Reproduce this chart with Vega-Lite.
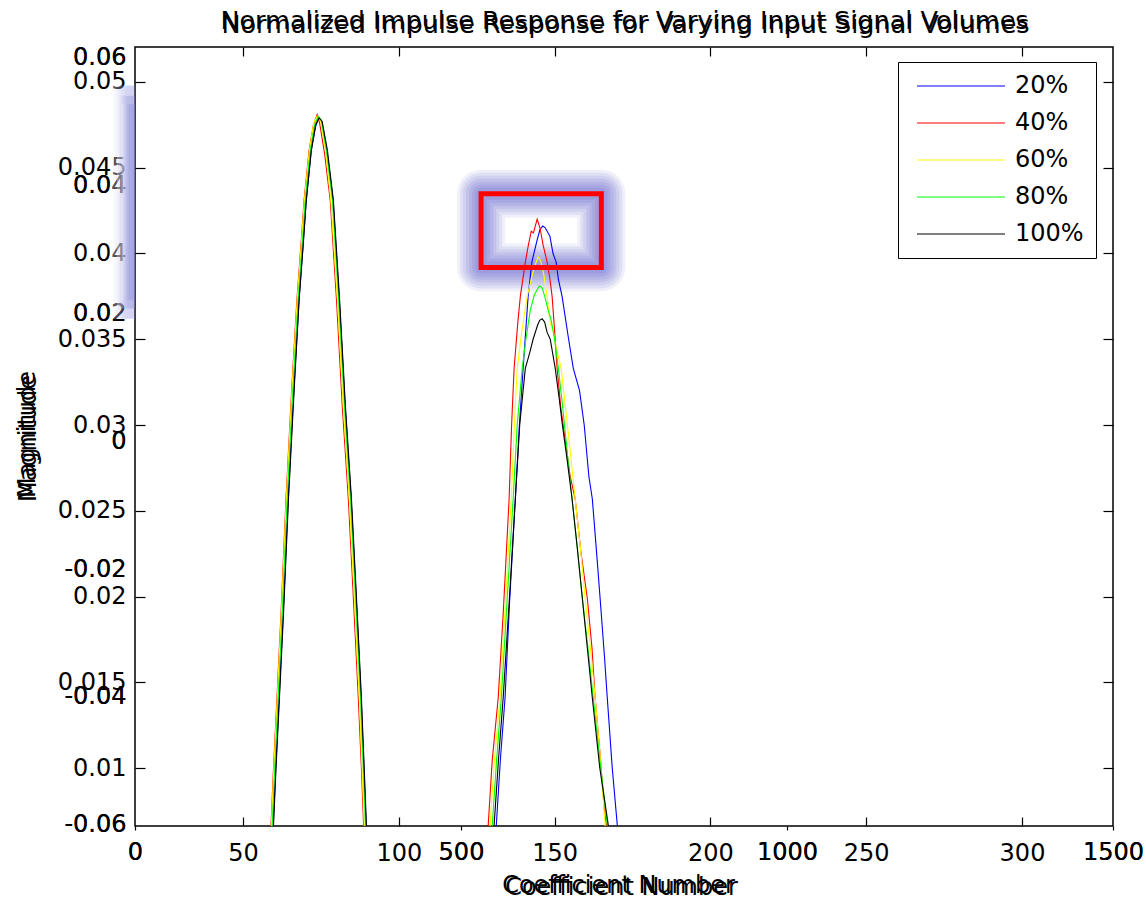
{
 "$schema": "https://vega.github.io/schema/vega-lite/v6.json",
 "width": 978, "height": 779,
 "autosize": "none",
 "padding": {"left": 135, "top": 47, "right": 33, "bottom": 74},
 "background": "white",
 "config": {
  "view": {"stroke": "black", "strokeWidth": 1.5},
  "font": "DejaVu Sans",
  "axis": {"labelFont": "DejaVu Sans", "titleFont": "DejaVu Sans", "labelFontSize": 24, "titleFontSize": 24, "titleFontWeight": "normal", "labelColor": "black", "titleColor": "black", "tickColor": "black", "domainColor": "black", "grid": false, "labelFlush": false, "labelOverlap": false, "tickWidth": 1.2, "domainWidth": 1.5}
 },
 "datasets": {
  "ax1": [{"x": 0, "y": -0.06}, {"x": 1500, "y": 0.06}],
  "ax2": [{"x": 15.34, "y": 0.00662}, {"x": 329.2, "y": 0.05204}],
  "box": [{"x1": 126.4, "x2": 165.0, "y1": 0.03919, "y2": 0.04349}],
  "band": [{"x1": 8.0, "x2": 15.34, "y1": 0.0362, "y2": 0.0498}, {"x1": 9.5, "x2": 15.34, "y1": 0.0368, "y2": 0.0492}, {"x1": 11.0, "x2": 15.34, "y1": 0.0373, "y2": 0.0487}],
  "curves": [
   {"s":"20%","x":0,"y":0},{"s":"20%","x":58.8,"y":0},{"s":"20%","x":59.7,"y":0.0067},{"s":"20%","x":60.5,"y":0.0100},{"s":"20%","x":61.6,"y":0.0141},{"s":"20%","x":62.9,"y":0.0190},{"s":"20%","x":64.5,"y":0.0257},{"s":"20%","x":66.3,"y":0.0320},{"s":"20%","x":68.0,"y":0.0373},{"s":"20%","x":69.3,"y":0.0405},{"s":"20%","x":70.3,"y":0.0431},{"s":"20%","x":71.9,"y":0.0460},{"s":"20%","x":73.3,"y":0.0474},{"s":"20%","x":74.3,"y":0.0479},{"s":"20%","x":75.3,"y":0.0477},{"s":"20%","x":76.9,"y":0.0460},{"s":"20%","x":78.9,"y":0.0431},{"s":"20%","x":80.9,"y":0.0373},{"s":"20%","x":82.8,"y":0.0310},{"s":"20%","x":84.7,"y":0.0257},{"s":"20%","x":86.3,"y":0.0200},{"s":"20%","x":87.9,"y":0.0141},{"s":"20%","x":88.8,"y":0.0100},{"s":"20%","x":89.5,"y":0.0067},{"s":"20%","x":90.3,"y":0},
   {"s":"20%","x":130.8,"y":0},{"s":"20%","x":131.3,"y":0.0067},{"s":"20%","x":132.6,"y":0.0105},{"s":"20%","x":134.1,"y":0.0141},{"s":"20%","x":135.5,"y":0.0195},{"s":"20%","x":137.4,"y":0.0257},{"s":"20%","x":138.7,"y":0.0300},{"s":"20%","x":139.9,"y":0.0333},{"s":"20%","x":141.5,"y":0.0375},{"s":"20%","x":142.7,"y":0.0395},{"s":"20%","x":144.4,"y":0.0408},{"s":"20%","x":145.3,"y":0.0414},{"s":"20%","x":146.2,"y":0.0416},{"s":"20%","x":147.0,"y":0.0415},{"s":"20%","x":148.5,"y":0.0410},{"s":"20%","x":149.5,"y":0.0400},{"s":"20%","x":150.5,"y":0.0395},{"s":"20%","x":151.2,"y":0.0385},{"s":"20%","x":152.4,"y":0.0375},{"s":"20%","x":154.5,"y":0.0350},{"s":"20%","x":156.0,"y":0.0333},{"s":"20%","x":158.0,"y":0.0320},{"s":"20%","x":159.5,"y":0.0300},{"s":"20%","x":161.0,"y":0.0270},{"s":"20%","x":162.1,"y":0.0257},{"s":"20%","x":163.5,"y":0.0225},{"s":"20%","x":164.6,"y":0.0199},{"s":"20%","x":166.0,"y":0.0165},{"s":"20%","x":166.9,"y":0.0141},{"s":"20%","x":168.5,"y":0.0100},{"s":"20%","x":170.1,"y":0.0067},{"s":"20%","x":170.6,"y":0},{"s":"20%","x":330,"y":0},

   {"s":"40%","x":0,"y":0},{"s":"40%","x":58.1,"y":0},{"s":"40%","x":59.0,"y":0.0067},{"s":"40%","x":59.8,"y":0.0100},{"s":"40%","x":60.9,"y":0.0141},{"s":"40%","x":62.2,"y":0.0190},{"s":"40%","x":63.8,"y":0.0257},{"s":"40%","x":65.6,"y":0.0320},{"s":"40%","x":67.3,"y":0.0373},{"s":"40%","x":68.6,"y":0.0405},{"s":"40%","x":69.6,"y":0.0431},{"s":"40%","x":71.2,"y":0.0460},{"s":"40%","x":72.6,"y":0.0475},{"s":"40%","x":73.8,"y":0.0481},{"s":"40%","x":74.6,"y":0.0476},{"s":"40%","x":76.2,"y":0.0458},{"s":"40%","x":78.0,"y":0.0431},{"s":"40%","x":80.0,"y":0.0373},{"s":"40%","x":81.9,"y":0.0310},{"s":"40%","x":83.8,"y":0.0257},{"s":"40%","x":85.4,"y":0.0200},{"s":"40%","x":87.0,"y":0.0141},{"s":"40%","x":88.0,"y":0.0100},{"s":"40%","x":88.7,"y":0.0067},{"s":"40%","x":89.5,"y":0},
   {"s":"40%","x":128.2,"y":0},{"s":"40%","x":128.7,"y":0.0067},{"s":"40%","x":130.0,"y":0.0105},{"s":"40%","x":131.9,"y":0.0141},{"s":"40%","x":133.5,"y":0.0190},{"s":"40%","x":135.4,"y":0.0257},{"s":"40%","x":136.2,"y":0.0300},{"s":"40%","x":137.0,"y":0.0333},{"s":"40%","x":138.2,"y":0.0360},{"s":"40%","x":139.0,"y":0.0375},{"s":"40%","x":140.6,"y":0.0395},{"s":"40%","x":141.6,"y":0.0405},{"s":"40%","x":142.5,"y":0.0413},{"s":"40%","x":143.2,"y":0.0412},{"s":"40%","x":143.8,"y":0.0416},{"s":"40%","x":144.4,"y":0.0420},{"s":"40%","x":145.3,"y":0.0415},{"s":"40%","x":146.3,"y":0.0405},{"s":"40%","x":147.6,"y":0.0395},{"s":"40%","x":148.5,"y":0.0385},{"s":"40%","x":149.2,"y":0.0375},{"s":"40%","x":150.0,"y":0.0355},{"s":"40%","x":150.8,"y":0.0333},{"s":"40%","x":152.0,"y":0.0310},{"s":"40%","x":153.5,"y":0.0290},{"s":"40%","x":155.0,"y":0.0270},{"s":"40%","x":156.6,"y":0.0257},{"s":"40%","x":158.5,"y":0.0225},{"s":"40%","x":160.5,"y":0.0199},{"s":"40%","x":162.0,"y":0.0170},{"s":"40%","x":163.0,"y":0.0141},{"s":"40%","x":164.5,"y":0.0110},{"s":"40%","x":166.0,"y":0.0075},{"s":"40%","x":166.6,"y":0.0067},{"s":"40%","x":167.2,"y":0},{"s":"40%","x":330,"y":0},

   {"s":"60%","x":0,"y":0},{"s":"60%","x":58.2,"y":0},{"s":"60%","x":59.1,"y":0.0067},{"s":"60%","x":59.9,"y":0.0100},{"s":"60%","x":61.0,"y":0.0141},{"s":"60%","x":62.3,"y":0.0190},{"s":"60%","x":63.9,"y":0.0257},{"s":"60%","x":65.7,"y":0.0320},{"s":"60%","x":67.4,"y":0.0373},{"s":"60%","x":68.7,"y":0.0405},{"s":"60%","x":69.7,"y":0.0431},{"s":"60%","x":71.3,"y":0.0460},{"s":"60%","x":72.7,"y":0.0476},{"s":"60%","x":73.8,"y":0.0480},{"s":"60%","x":74.8,"y":0.0478},{"s":"60%","x":76.5,"y":0.0460},{"s":"60%","x":78.2,"y":0.0431},{"s":"60%","x":80.3,"y":0.0373},{"s":"60%","x":82.2,"y":0.0310},{"s":"60%","x":84.1,"y":0.0257},{"s":"60%","x":85.7,"y":0.0200},{"s":"60%","x":87.3,"y":0.0141},{"s":"60%","x":88.2,"y":0.0100},{"s":"60%","x":88.9,"y":0.0067},{"s":"60%","x":89.7,"y":0},
   {"s":"60%","x":128.8,"y":0},{"s":"60%","x":129.3,"y":0.0067},{"s":"60%","x":130.7,"y":0.0105},{"s":"60%","x":132.5,"y":0.0141},{"s":"60%","x":134.3,"y":0.0199},{"s":"60%","x":136.1,"y":0.0257},{"s":"60%","x":137.1,"y":0.0300},{"s":"60%","x":138.0,"y":0.0333},{"s":"60%","x":139.5,"y":0.0355},{"s":"60%","x":141.2,"y":0.0375},{"s":"60%","x":142.5,"y":0.0385},{"s":"60%","x":143.5,"y":0.0392},{"s":"60%","x":144.7,"y":0.0398},{"s":"60%","x":145.5,"y":0.0396},{"s":"60%","x":146.5,"y":0.0388},{"s":"60%","x":147.6,"y":0.0375},{"s":"60%","x":148.5,"y":0.0360},{"s":"60%","x":149.5,"y":0.0355},{"s":"60%","x":150.5,"y":0.0345},{"s":"60%","x":152.1,"y":0.0333},{"s":"60%","x":153.5,"y":0.0310},{"s":"60%","x":155.0,"y":0.0285},{"s":"60%","x":156.6,"y":0.0257},{"s":"60%","x":158.3,"y":0.0228},{"s":"60%","x":159.8,"y":0.0199},{"s":"60%","x":161.5,"y":0.0170},{"s":"60%","x":163.0,"y":0.0141},{"s":"60%","x":164.7,"y":0.0105},{"s":"60%","x":166.2,"y":0.0067},{"s":"60%","x":166.7,"y":0},{"s":"60%","x":330,"y":0},

   {"s":"80%","x":0,"y":0},{"s":"80%","x":58.5,"y":0},{"s":"80%","x":59.4,"y":0.0067},{"s":"80%","x":60.2,"y":0.0100},{"s":"80%","x":61.3,"y":0.0141},{"s":"80%","x":62.6,"y":0.0190},{"s":"80%","x":64.2,"y":0.0257},{"s":"80%","x":66.0,"y":0.0320},{"s":"80%","x":67.7,"y":0.0373},{"s":"80%","x":69.0,"y":0.0405},{"s":"80%","x":70.0,"y":0.0431},{"s":"80%","x":71.6,"y":0.0460},{"s":"80%","x":73.0,"y":0.0475},{"s":"80%","x":74.1,"y":0.0480},{"s":"80%","x":75.1,"y":0.0478},{"s":"80%","x":76.8,"y":0.0460},{"s":"80%","x":78.7,"y":0.0431},{"s":"80%","x":80.7,"y":0.0373},{"s":"80%","x":82.6,"y":0.0310},{"s":"80%","x":84.5,"y":0.0257},{"s":"80%","x":86.1,"y":0.0200},{"s":"80%","x":87.7,"y":0.0141},{"s":"80%","x":88.6,"y":0.0100},{"s":"80%","x":89.3,"y":0.0067},{"s":"80%","x":90.1,"y":0},
   {"s":"80%","x":129.5,"y":0},{"s":"80%","x":130.0,"y":0.0067},{"s":"80%","x":131.4,"y":0.0105},{"s":"80%","x":132.9,"y":0.0141},{"s":"80%","x":134.8,"y":0.0199},{"s":"80%","x":136.7,"y":0.0257},{"s":"80%","x":138.0,"y":0.0300},{"s":"80%","x":139.6,"y":0.0333},{"s":"80%","x":140.8,"y":0.0350},{"s":"80%","x":142.2,"y":0.0367},{"s":"80%","x":143.5,"y":0.0376},{"s":"80%","x":145.1,"y":0.0381},{"s":"80%","x":146.0,"y":0.0380},{"s":"80%","x":147.0,"y":0.0374},{"s":"80%","x":147.9,"y":0.0367},{"s":"80%","x":148.8,"y":0.0362},{"s":"80%","x":150.0,"y":0.0350},{"s":"80%","x":151.2,"y":0.0333},{"s":"80%","x":152.5,"y":0.0312},{"s":"80%","x":154.0,"y":0.0285},{"s":"80%","x":155.6,"y":0.0257},{"s":"80%","x":157.3,"y":0.0228},{"s":"80%","x":158.9,"y":0.0199},{"s":"80%","x":160.7,"y":0.0170},{"s":"80%","x":162.4,"y":0.0141},{"s":"80%","x":164.5,"y":0.0105},{"s":"80%","x":166.9,"y":0.0067},{"s":"80%","x":167.3,"y":0},{"s":"80%","x":330,"y":0},

   {"s":"100%","x":0,"y":0},{"s":"100%","x":58.9,"y":0},{"s":"100%","x":59.8,"y":0.0067},{"s":"100%","x":60.6,"y":0.0100},{"s":"100%","x":61.7,"y":0.0141},{"s":"100%","x":63.0,"y":0.0190},{"s":"100%","x":64.6,"y":0.0257},{"s":"100%","x":66.4,"y":0.0320},{"s":"100%","x":68.0,"y":0.0373},{"s":"100%","x":69.3,"y":0.0405},{"s":"100%","x":70.3,"y":0.0431},{"s":"100%","x":71.9,"y":0.0460},{"s":"100%","x":73.3,"y":0.0475},{"s":"100%","x":74.4,"y":0.0479},{"s":"100%","x":75.4,"y":0.0477},{"s":"100%","x":77.1,"y":0.0460},{"s":"100%","x":79.0,"y":0.0431},{"s":"100%","x":81.0,"y":0.0373},{"s":"100%","x":82.9,"y":0.0310},{"s":"100%","x":84.8,"y":0.0257},{"s":"100%","x":86.4,"y":0.0200},{"s":"100%","x":88.0,"y":0.0141},{"s":"100%","x":88.9,"y":0.0100},{"s":"100%","x":89.6,"y":0.0067},{"s":"100%","x":90.4,"y":0},
   {"s":"100%","x":130.1,"y":0},{"s":"100%","x":130.6,"y":0.0067},{"s":"100%","x":132.0,"y":0.0105},{"s":"100%","x":133.5,"y":0.0141},{"s":"100%","x":135.5,"y":0.0199},{"s":"100%","x":137.4,"y":0.0257},{"s":"100%","x":138.8,"y":0.0300},{"s":"100%","x":140.6,"y":0.0333},{"s":"100%","x":142.0,"y":0.0342},{"s":"100%","x":143.1,"y":0.0350},{"s":"100%","x":144.5,"y":0.0358},{"s":"100%","x":145.2,"y":0.0361},{"s":"100%","x":146.0,"y":0.0362},{"s":"100%","x":146.8,"y":0.0360},{"s":"100%","x":147.6,"y":0.0354},{"s":"100%","x":148.6,"y":0.0350},{"s":"100%","x":150.2,"y":0.0333},{"s":"100%","x":151.5,"y":0.0315},{"s":"100%","x":152.5,"y":0.0300},{"s":"100%","x":154.0,"y":0.0280},{"s":"100%","x":155.6,"y":0.0257},{"s":"100%","x":157.3,"y":0.0228},{"s":"100%","x":158.9,"y":0.0199},{"s":"100%","x":160.5,"y":0.0170},{"s":"100%","x":162.1,"y":0.0141},{"s":"100%","x":164.5,"y":0.0100},{"s":"100%","x":167.2,"y":0.0067},{"s":"100%","x":167.6,"y":0},{"s":"100%","x":330,"y":0}
  ]
 },
 "layer": [
  {
   "data": {"name": "ax1"},
   "mark": {"type": "point", "opacity": 0},
   "encoding": {
    "x": {"field": "x", "type": "quantitative", "scale": {"domain": [0, 1500], "nice": false, "zero": false},
     "axis": {"orient": "bottom", "values": [0, 500, 1000, 1500], "format": "d", "tickSize": 4, "labelPadding": 10, "domain": false, "title": "Coefficient Number", "titleX": 483, "titleY": 66, "titleBaseline": "alphabetic"}},
    "y": {"field": "y", "type": "quantitative", "scale": {"domain": [-0.0602, 0.0617], "nice": false, "zero": false},
     "axis": {"orient": "left", "values": [-0.06, -0.04, -0.02, 0, 0.02, 0.04, 0.06], "ticks": false, "labelPadding": 9, "domain": false, "labelExpr": "replace(format(datum.value, '~g'), '−', '-')", "title": "Magnitude", "titleX": -100, "titleY": 391, "titleBaseline": "alphabetic", "titleAngle": 270}}
   }
  },
  {
   "data": {"name": "ax1"},
   "mark": {"type": "point", "opacity": 0},
   "encoding": {
    "x": {"field": "x", "type": "quantitative", "scale": {"domain": [0, 1500], "nice": false, "zero": false},
     "axis": {"orient": "bottom", "values": [0, 500, 1000, 1500], "format": "d", "ticks": false, "labelPadding": 14, "labelDx": -3, "labelDy": 2, "domain": false, "title": "Coefficient Number", "titleX": 486, "titleY": 68, "titleBaseline": "alphabetic"}},
    "y": {"field": "y", "type": "quantitative", "scale": {"domain": [-0.0602, 0.0617], "nice": false, "zero": false},
     "axis": {"orient": "left", "values": [-0.06, -0.04, -0.02, 0, 0.02, 0.04, 0.06], "ticks": false, "labelPadding": 9, "labelDy": 3, "labelDx": -1, "domain": false, "labelExpr": "replace(format(datum.value, '~g'), '−', '-')", "title": "Magnitude", "titleX": -101, "titleY": 387, "titleBaseline": "alphabetic", "titleAngle": 270}}
   }
  },
  {
   "data": {"name": "band"},
   "mark": {"type": "rect", "clip": false, "opacity": 0.35, "color": {"gradient": "linear", "x1": 0, "x2": 1, "y1": 0, "y2": 0, "stops": [{"offset": 0, "color": "#ffffff"}, {"offset": 0.6, "color": "#8c8cdc"}, {"offset": 1, "color": "#8080d8"}]}},
   "encoding": {
    "x": {"field": "x1", "type": "quantitative", "scale": {"domain": [15.34, 329.2], "nice": false, "zero": false}, "axis": null},
    "x2": {"field": "x2"},
    "y": {"field": "y1", "type": "quantitative", "scale": {"domain": [0.00662, 0.05204], "nice": false, "zero": false}, "axis": null},
    "y2": {"field": "y2"}
   }
  },
  {
   "data": {"name": "box"},
   "encoding": {
    "x": {"field": "x1", "type": "quantitative", "scale": {"domain": [15.34, 329.2], "nice": false, "zero": false}, "axis": null},
    "x2": {"field": "x2"},
    "y": {"field": "y1", "type": "quantitative", "scale": {"domain": [0.00662, 0.05204], "nice": false, "zero": false}, "axis": null},
    "y2": {"field": "y2"}
   },
   "layer": [
    {"mark": {"type": "rect", "filled": false, "stroke": "#6a6ad0", "strokeWidth": 48, "strokeOpacity": 0.1, "strokeJoin": "round", "clip": false}},
    {"mark": {"type": "rect", "filled": false, "stroke": "#6a6ad0", "strokeWidth": 42, "strokeOpacity": 0.12, "strokeJoin": "round", "clip": false}},
    {"mark": {"type": "rect", "filled": false, "stroke": "#6a6ad0", "strokeWidth": 36, "strokeOpacity": 0.13, "strokeJoin": "round", "clip": false}},
    {"mark": {"type": "rect", "filled": false, "stroke": "#6a6ad0", "strokeWidth": 30, "strokeOpacity": 0.14, "strokeJoin": "round", "clip": false}},
    {"mark": {"type": "rect", "filled": false, "stroke": "#6a6ad0", "strokeWidth": 24, "strokeOpacity": 0.15, "strokeJoin": "round", "clip": false}},
    {"mark": {"type": "rect", "filled": false, "stroke": "#6a6ad0", "strokeWidth": 18, "strokeOpacity": 0.16, "strokeJoin": "round", "clip": false}},
    {"mark": {"type": "rect", "filled": false, "stroke": "#6a6ad0", "strokeWidth": 12, "strokeOpacity": 0.18, "strokeJoin": "round", "clip": false}}
   ]
  },
  {
   "data": {"name": "curves"},
   "mark": {"type": "line", "strokeWidth": 1.1, "clip": true},
   "encoding": {
    "x": {"field": "x", "type": "quantitative", "scale": {"domain": [15.34, 329.2], "nice": false, "zero": false},
     "axis": {"orient": "bottom", "values": [50, 100, 150, 200, 250, 300], "tickSize": -9, "labelPadding": 24, "domain": false, "title": null}},
    "y": {"field": "y", "type": "quantitative", "scale": {"domain": [0.00662, 0.05204], "nice": false, "zero": false},
     "axis": {"orient": "left", "values": [0.01, 0.015, 0.02, 0.025, 0.03, 0.035, 0.04, 0.045, 0.05], "tickSize": -10, "labelPadding": 19, "format": "~g", "domain": false, "title": null}},
    "color": {"field": "s", "type": "nominal", "sort": ["20%", "40%", "60%", "80%", "100%"],
     "scale": {"domain": ["20%", "40%", "60%", "80%", "100%"], "range": ["#0000ff", "#ff0000", "#ffff00", "#00ff00", "#000000"]},
     "legend": {"orient": "none", "legendX": 763, "legendY": 15, "title": null, "fillColor": "white", "strokeColor": "black", "padding": 12, "symbolType": "M-4,0H4", "symbolSize": 484, "symbolStrokeWidth": 1.2, "symbolFillColor": "transparent", "labelFontSize": 24, "labelFont": "DejaVu Sans", "labelColor": "black", "labelOffset": 42, "rowPadding": 13, "symbolOffset": 39}}
   }
  },
  {
   "data": {"name": "ax2"},
   "mark": {"type": "point", "opacity": 0},
   "encoding": {
    "x": {"field": "x", "type": "quantitative", "scale": {"domain": [15.34, 329.2], "nice": false, "zero": false},
     "axis": {"orient": "top", "values": [50, 100, 150, 200, 250, 300], "tickSize": -9, "labels": false, "domain": false, "title": "Normalized Impulse Response for Varying Input Signal Volumes", "titleFontSize": 25.5, "titleY": -19, "titleBaseline": "alphabetic"}},
    "y": {"field": "y", "type": "quantitative", "scale": {"domain": [0.00662, 0.05204], "nice": false, "zero": false},
     "axis": {"orient": "right", "values": [0.01, 0.015, 0.02, 0.025, 0.03, 0.035, 0.04, 0.045, 0.05], "tickSize": -10, "labels": false, "domain": false, "title": null}}
   }
  },
  {
   "data": {"name": "ax2"},
   "mark": {"type": "point", "opacity": 0},
   "encoding": {
    "x": {"field": "x", "type": "quantitative", "scale": {"domain": [15.34, 329.2], "nice": false, "zero": false},
     "axis": {"orient": "top", "values": [], "ticks": false, "labels": false, "domain": false, "title": "Normalized Impulse Response for Varying Input Signal Volumes", "titleFontSize": 25.5, "titleY": -15, "titleX": 490, "titleBaseline": "alphabetic"}},
    "y": {"field": "y", "type": "quantitative", "scale": {"domain": [0.00662, 0.05204], "nice": false, "zero": false}, "axis": null}
   }
  },
  {
   "data": {"name": "box"},
   "mark": {"type": "rect", "filled": false, "stroke": "#ff0000", "strokeWidth": 5, "clip": false},
   "encoding": {
    "x": {"field": "x1", "type": "quantitative", "scale": {"domain": [15.34, 329.2], "nice": false, "zero": false}, "axis": null},
    "x2": {"field": "x2"},
    "y": {"field": "y1", "type": "quantitative", "scale": {"domain": [0.00662, 0.05204], "nice": false, "zero": false}, "axis": null},
    "y2": {"field": "y2"}
   }
  }
 ],
 "resolve": {"scale": {"x": "independent", "y": "independent"}}
}
